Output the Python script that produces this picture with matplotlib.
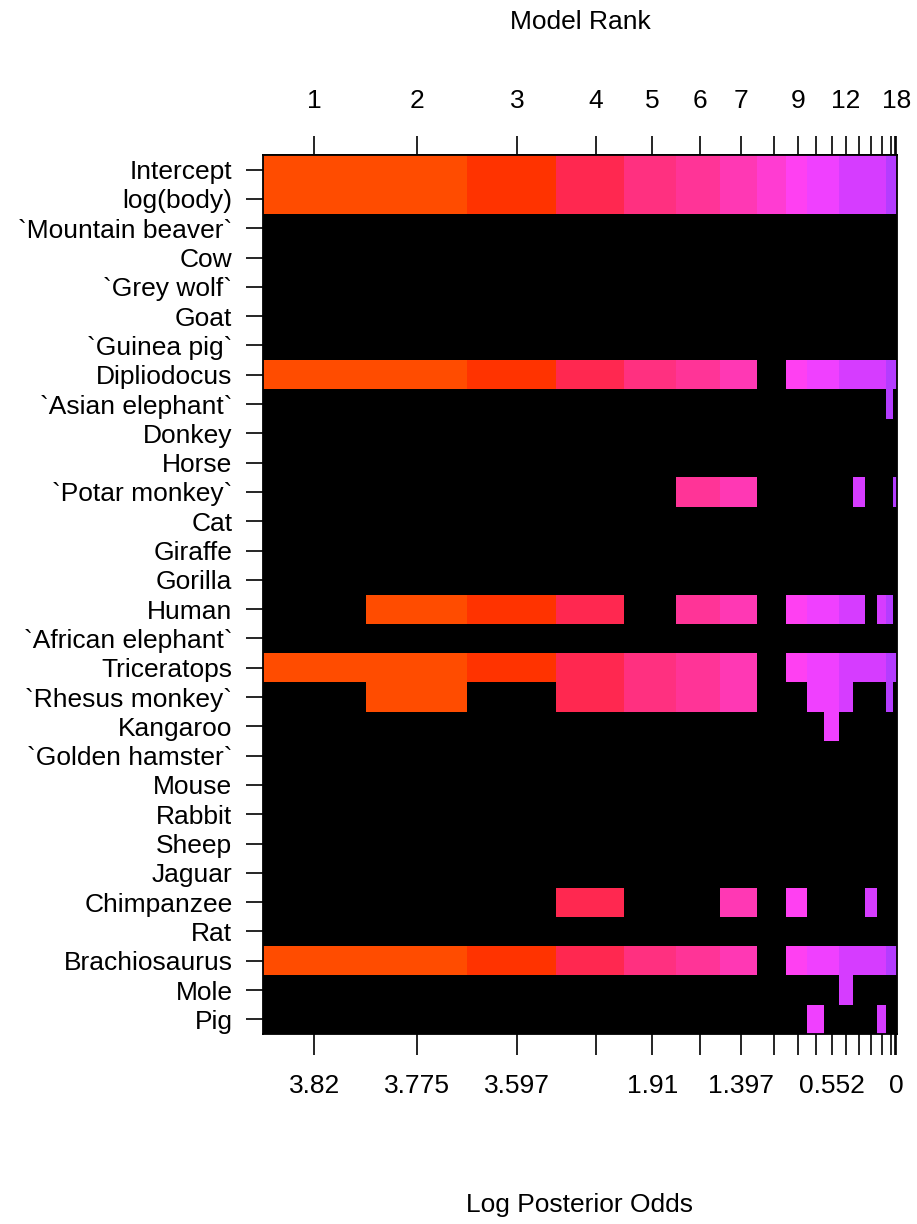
import numpy as np
import matplotlib
matplotlib.use("Agg")
import matplotlib.pyplot as plt
from matplotlib.colors import ListedColormap, BoundaryNorm

# ---------------- data ----------------
variables = ["Intercept", "log(body)", "`Mountain beaver`", "Cow", "`Grey wolf`",
             "Goat", "`Guinea pig`", "Dipliodocus", "`Asian elephant`", "Donkey",
             "Horse", "`Potar monkey`", "Cat", "Giraffe", "Gorilla", "Human",
             "`African elephant`", "Triceratops", "`Rhesus monkey`", "Kangaroo",
             "`Golden hamster`", "Mouse", "Rabbit", "Sheep", "Jaguar",
             "Chimpanzee", "Rat", "Brachiosaurus", "Mole", "Pig"]

model_rank = list(range(1, 19))
log_post_odds = [3.82, 3.775, 3.597, 2.25, 1.91, 1.61, 1.397, 1.08, 0.71,
                 0.615, 0.552, 0.49, 0.46, 0.43, 0.40, 0.22, 0.10, 0.0]

all_models = list(range(1, 19))
no_rank8 = [1, 2, 3, 4, 5, 6, 7, 9, 10, 11, 12, 13, 14, 15, 16, 17, 18]
included = {
    "Intercept": all_models,
    "log(body)": all_models,
    "Dipliodocus": no_rank8,
    "`Asian elephant`": [16],
    "`Potar monkey`": [6, 7, 13, 17, 18],
    "Human": [2, 3, 4, 6, 7, 9, 10, 11, 12, 13, 15, 16],
    "Triceratops": no_rank8,
    "`Rhesus monkey`": [2, 4, 5, 6, 7, 10, 11, 12, 16],
    "Kangaroo": [11],
    "Chimpanzee": [4, 7, 9, 14],
    "Brachiosaurus": no_rank8,
    "Mole": [12],
    "Pig": [10, 15],
}

top_labelled = [1, 2, 3, 4, 5, 6, 7, 9, 12, 18]
bottom_labelled = [1, 2, 3, 5, 7, 11, 18]

# ---------------- style ----------------
model_colors = ["#FF4C00", "#FF4C00", "#FF3300", "#FF2850", "#FF3080", "#FF3497",
                "#FF38B4", "#FF3CD2", "#FF40F2", "#F040FF", "#F040FF", "#D63CFF",
                "#D63CFF", "#D63CFF", "#D63CFF", "#B43CFF", "#B43CFF", "#B43CFF"]

plt.rcParams['font.family'] = ['Liberation Sans', 'DejaVu Sans']
FS = 19

W, H = 917, 1224
fig = plt.figure(figsize=(W / 100, H / 100), dpi=100)
L, R, T, B = 263, 897, 155, 1034
ax = fig.add_axes([L / W, 1 - B / H, (R - L) / W, (B - T) / H])

lo = np.array(log_post_odds)
cum = np.concatenate([[0.0], np.cumsum(lo)])
centers = (cum[:-1] + cum[1:]) / 2
mids = (centers[:-1] + centers[1:]) / 2
edges = np.concatenate([[centers[0] - (centers[1] - centers[0]) / 2], mids,
                        [centers[-1] + (centers[-1] - centers[-2]) / 2]])

nvar = len(variables)
nmod = len(model_rank)
Z = np.zeros((nvar, nmod))
for i, v in enumerate(variables):
    for m in included.get(v, []):
        Z[i, m - 1] = m

cmap = ListedColormap(["black"] + model_colors)
norm = BoundaryNorm(np.arange(-0.5, nmod + 1.5, 1.0), cmap.N)
ax.pcolormesh(edges, np.arange(nvar + 1), Z, cmap=cmap, norm=norm,
              shading="flat", antialiased=False)
ax.set_xlim(edges[0], edges[-1])
ax.set_ylim(nvar, 0)

ax.set_yticks(np.arange(nvar) + 0.5)
ax.set_yticklabels(variables, fontsize=FS)
bottom_labels = [(f"{round(v, 3):g}" if r in bottom_labelled else "")
                 for r, v in zip(model_rank, log_post_odds)]
ax.set_xticks(centers)
ax.set_xticklabels(bottom_labels, fontsize=FS)
ax.tick_params(axis="y", length=12, width=1.2, pad=10, direction="out")
ax.tick_params(axis="x", length=15, width=1.2, pad=14, direction="out")

sec = ax.secondary_xaxis("top")
sec.set_xticks(centers)
sec.set_xticklabels([str(r) if r in top_labelled else "" for r in model_rank],
                    fontsize=FS)
sec.tick_params(axis="x", length=14, width=1.2, pad=16, direction="out")
for s in sec.spines.values():
    s.set_linewidth(1.3)

for s in ax.spines.values():
    s.set_linewidth(1.3)

fig.text((L + R) / 2 / W, 1 - 22 / H, "Model Rank", ha="center", va="center",
         fontsize=FS)
fig.text((L + R) / 2 / W, 1 - 1205 / H, "Log Posterior Odds", ha="center",
         va="center", fontsize=FS)

fig.savefig("out.png", dpi=100, facecolor="white")
